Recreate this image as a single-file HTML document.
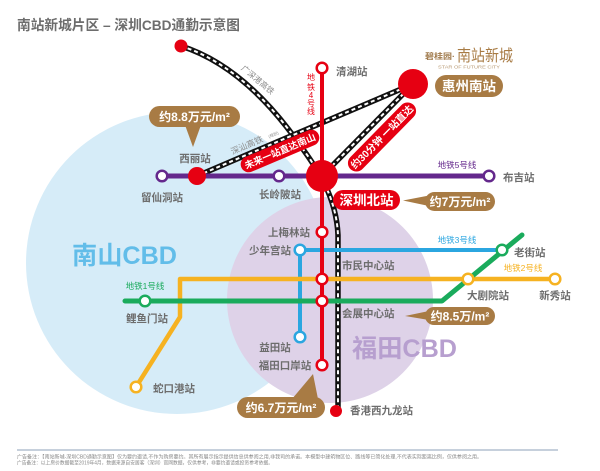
<!DOCTYPE html>
<html><head><meta charset="utf-8"><style>
html,body{margin:0;padding:0;background:#fff;}
svg{display:block;}
text{font-family:"Liberation Sans","Noto Sans CJK SC",sans-serif;}
</style></head><body>
<svg width="600" height="471" viewBox="0 0 600 471" xmlns="http://www.w3.org/2000/svg">
<rect width="600" height="471" fill="#fff"/>
<!-- title -->
<text x="17" y="30" font-size="14" font-weight="bold" fill="#6d6d6d" textLength="223" lengthAdjust="spacingAndGlyphs">南站新城片区 – 深圳CBD通勤示意图</text>

<!-- zones -->
<circle cx="177" cy="263" r="151" fill="#d6ecf8"/>
<circle cx="330" cy="300" r="103" fill="#ded2e8"/>
<text x="72" y="264" font-size="25" font-weight="bold" fill="#62bde9" textLength="105" lengthAdjust="spacingAndGlyphs">南山CBD</text>
<text x="352" y="357" font-size="25" font-weight="bold" fill="#b79fcf" textLength="105" lengthAdjust="spacingAndGlyphs">福田CBD</text>

<!-- railways -->
<g fill="none">
<path d="M181,46 C225,60 265,95 300,145 C312,162 336,192 338,235 L338,411" stroke="#111" stroke-width="5.5"/>
<path d="M181,46 C225,60 265,95 300,145 C312,162 336,192 338,235 L338,411" stroke="#fff" stroke-width="2" stroke-dasharray="4 3"/>
<path d="M197,176 L413,84" stroke="#111" stroke-width="5.5"/>
<path d="M197,176 L413,84" stroke="#fff" stroke-width="2" stroke-dasharray="4 3"/>
<path d="M322,176 L413,84" stroke="#111" stroke-width="5.5"/>
<path d="M322,176 L413,84" stroke="#fff" stroke-width="2" stroke-dasharray="4 3"/>
</g>
<circle cx="181" cy="46" r="6.5" fill="#e60012"/>
<text transform="translate(256,82) rotate(40)" text-anchor="middle" font-size="8" fill="#8a8a8a">广深港高铁</text>
<text transform="translate(248,148) rotate(-23)" text-anchor="middle" font-size="8.5" fill="#8a8a8a">深汕高铁</text>
<text transform="translate(274,136) rotate(-23)" text-anchor="middle" font-size="4" fill="#8a8a8a">(规划)</text>

<!-- metro lines -->
<g fill="none" stroke-linecap="round" stroke-linejoin="round">
<path d="M162,176 L489,176" stroke="#64288c" stroke-width="5"/>
<path d="M300,337 L300,250 L502,250" stroke="#2ba6e0" stroke-width="4"/>
<path d="M136,387 L180,317 L180,279 L555,279" stroke="#f6b221" stroke-width="4.5"/>
<path d="M125,301 L442,301 L522,235" stroke="#1aab5c" stroke-width="5"/>
<path d="M322,68 L322,365" stroke="#e60012" stroke-width="4"/>
</g>

<!-- stations -->
<g fill="#fff" stroke-width="2.5">
<circle cx="162" cy="176" r="5.3" stroke="#64288c"/>
<circle cx="279" cy="176" r="5.3" stroke="#64288c"/>
<circle cx="489" cy="176" r="5.3" stroke="#64288c"/>
<circle cx="300" cy="250" r="5.3" stroke="#2ba6e0"/>
<circle cx="300" cy="337" r="5.3" stroke="#2ba6e0"/>
<circle cx="502" cy="250" r="5.3" stroke="#1aab5c"/>
<circle cx="145" cy="301" r="5.3" stroke="#1aab5c"/>
<circle cx="468" cy="279" r="5.3" stroke="#f6b221"/>
<circle cx="555" cy="279" r="5.3" stroke="#f6b221"/>
<circle cx="136" cy="387" r="5.3" stroke="#f6b221"/>
<circle cx="322" cy="68" r="5.3" stroke="#e60012"/>
<circle cx="322" cy="232" r="5.3" stroke="#e60012"/>
<circle cx="322" cy="279" r="5.3" stroke="#e60012"/>
<circle cx="322" cy="301" r="5.3" stroke="#e60012"/>
<circle cx="322" cy="365" r="5.3" stroke="#e60012"/>
</g>
<circle cx="197" cy="176" r="9" fill="#e60012"/>
<circle cx="336" cy="411" r="6" fill="#e60012"/>
<circle cx="413" cy="84" r="15" fill="#e60012"/>
<circle cx="322" cy="176" r="16" fill="#e60012"/>

<!-- station labels -->
<g font-size="10.5" font-weight="bold" fill="#6d6d6d">
<text x="336" y="75">清湖站</text>
<text x="195" y="162" text-anchor="middle">西丽站</text>
<text x="162" y="201" text-anchor="middle">留仙洞站</text>
<text x="280" y="198" text-anchor="middle">长岭陂站</text>
<text x="503" y="181">布吉站</text>
<text x="310" y="236" text-anchor="end">上梅林站</text>
<text x="291" y="254" text-anchor="end">少年宫站</text>
<text x="342" y="269">市民中心站</text>
<text x="342" y="317">会展中心站</text>
<text x="514" y="256">老街站</text>
<text x="488" y="299" text-anchor="middle">大剧院站</text>
<text x="555" y="299" text-anchor="middle">新秀站</text>
<text x="147" y="322" text-anchor="middle">鲤鱼门站</text>
<text x="153" y="392">蛇口港站</text>
<text x="275" y="351" text-anchor="middle">益田站</text>
<text x="285" y="369" text-anchor="middle">福田口岸站</text>
<text x="350" y="414">香港西九龙站</text>
</g>

<!-- line labels -->
<g font-size="8.5" text-anchor="middle">
<text x="457" y="168" fill="#64288c">地铁5号线</text>
<text x="457" y="243" fill="#2ba6e0">地铁3号线</text>
<text x="523" y="271" fill="#f6b221">地铁2号线</text>
<text x="145" y="289" fill="#1aab5c">地铁1号线</text>
</g>
<g font-size="8" text-anchor="middle" fill="#e60012">
<text x="311" y="80">地</text>
<text x="311" y="90">铁</text>
<text x="311" y="98">4</text>
<text x="311" y="106">号</text>
<text x="311" y="114">线</text>
</g>

<!-- rotated red pills -->
<g transform="translate(280,151) rotate(-23)">
<rect x="-42" y="-8" width="84" height="16" rx="8" fill="#e60012"/>
<text x="0" y="3.5" text-anchor="middle" font-size="9.5" font-weight="bold" fill="#fff">未来一站直达南山</text>
</g>
<g transform="translate(382,137) rotate(-45.5)">
<rect x="-45" y="-8.5" width="90" height="17" rx="8.5" fill="#e60012"/>
<text x="0" y="3.5" text-anchor="middle" font-size="10" font-weight="bold" fill="#fff">约30分钟 一站直达</text>
</g>

<!-- name pills -->
<rect x="333" y="190" width="67" height="20" rx="10" fill="#e60012"/>
<text x="366.5" y="205" text-anchor="middle" font-size="13.5" font-weight="bold" fill="#fff">深圳北站</text>
<rect x="435" y="75" width="68" height="22" rx="11" fill="#a87b44"/>
<text x="469" y="91" text-anchor="middle" font-size="13.5" font-weight="bold" fill="#fff">惠州南站</text>

<!-- price pills -->
<g fill="#a87b44">
<rect x="149" y="106" width="91" height="21" rx="10.5"/>
<polygon points="185,125 201,125 193,147"/>
<rect x="425" y="192" width="70" height="19" rx="9.5"/>
<polygon points="429,195.5 429,206 403,200.5"/>
<rect x="425" y="307" width="70" height="18" rx="9"/>
<polygon points="429,311 429,320 405,316"/>
<rect x="237" y="397" width="88" height="21" rx="10.5"/>
<polygon points="292,399 318,399 313,374"/>
</g>
<g font-size="12" font-weight="bold" fill="#fff" text-anchor="middle">
<text x="194.5" y="121">约8.8万元/m²</text>
<text x="460" y="206">约7万元/m²</text>
<text x="460" y="320.5">约8.5万/m²</text>
<text x="281" y="412">约6.7万元/m²</text>
</g>

<!-- logo -->
<text x="425" y="59" font-size="8" font-weight="bold" fill="#a07a4c" textLength="30" lengthAdjust="spacingAndGlyphs">碧桂园·</text>
<text x="457" y="61" font-size="16" fill="#a87b44" textLength="56" lengthAdjust="spacingAndGlyphs">南站新城</text>
<text x="438" y="68.5" font-size="4.2" fill="#b89a74" textLength="62" lengthAdjust="spacingAndGlyphs">STAR OF FUTURE CITY</text>

<!-- footer -->
<line x1="17" y1="450" x2="558" y2="450" stroke="#8da2b8" stroke-width="1"/>
<text x="17" y="458.5" font-size="5" fill="#888" textLength="465" lengthAdjust="spacingAndGlyphs">广告备注：【南站新城-深圳CBD通勤示意图】仅为要约邀请,不作为购房要约。其所有展示指示提供信息供参阅之用,非我司的承诺。本模型中建筑物区位、路线等已简化处理,不代表实际距离比例，仅供参阅之用。</text>
<text x="17" y="464.5" font-size="5" fill="#888" textLength="256" lengthAdjust="spacingAndGlyphs">广告备注：以上房价数据截至2019年4月，数据来源自安居客（深圳）官网数据，仅供参考，非要约邀请或投资参考依据。</text>
</svg>
</body></html>
